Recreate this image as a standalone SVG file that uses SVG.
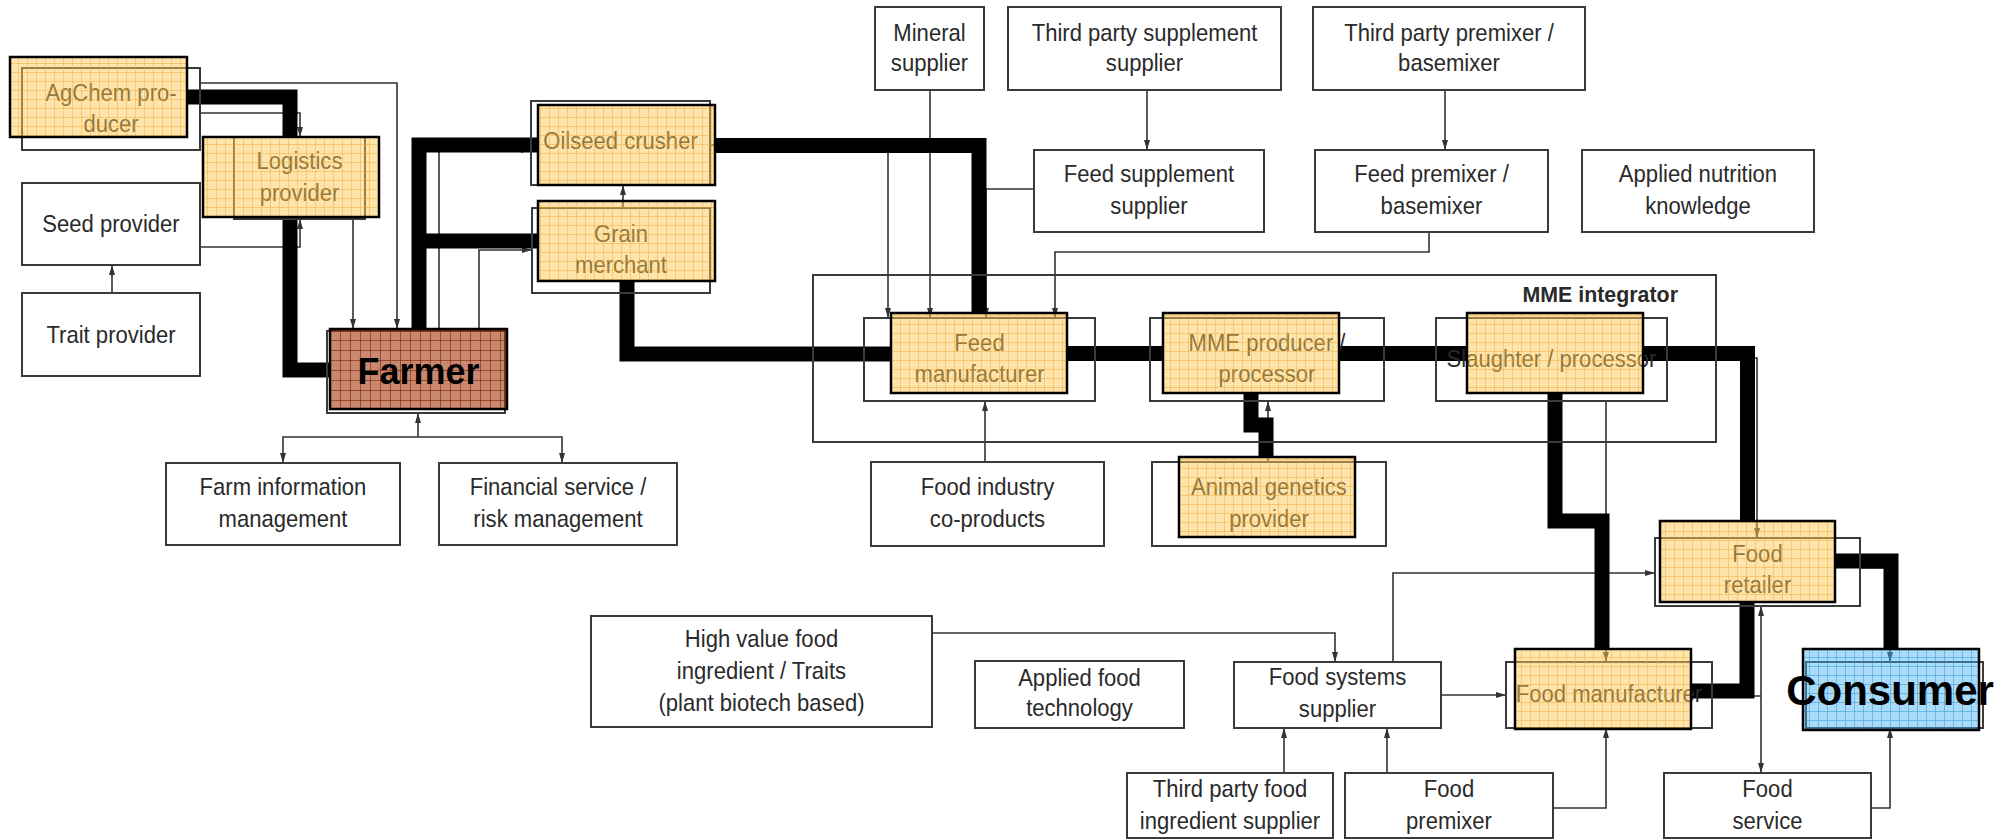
<svg xmlns="http://www.w3.org/2000/svg" width="2014" height="840" viewBox="0 0 2014 840">
<defs>
<style>
.b{fill:none;stroke:#3a3a3a;stroke-width:2}
.t{font-family:"Liberation Sans",Arial,sans-serif;font-size:24px;fill:#2a2a2a;text-anchor:middle}
.big{font-family:"Liberation Sans",Arial,sans-serif;font-weight:bold;fill:#000;text-anchor:middle}
.lab{font-family:"Liberation Sans",Arial,sans-serif;font-weight:bold;font-size:23px;fill:#2a2a2a;text-anchor:end}
.c{fill:none;stroke:#333;stroke-width:1.6;marker-end:url(#ah)}
.c0{fill:none;stroke:#333;stroke-width:1.6}
.c2{fill:none;stroke:#333;stroke-width:1.6;marker-end:url(#ah);marker-start:url(#ah)}
.k{fill:none;stroke:#000;stroke-width:15;stroke-linejoin:miter;stroke-linecap:butt}
.oy{fill:url(#py);stroke:#000;stroke-width:2.5}
.ob{fill:url(#pb);stroke:#000;stroke-width:2.5}
.oc{fill:url(#pc);stroke:#000;stroke-width:2.5}
</style>
<pattern id="py" width="9" height="9" patternUnits="userSpaceOnUse">
<rect width="9" height="9" fill="#FDC853" fill-opacity="0.49"/>
<path d="M0 0.5H9M0.5 0V9" stroke="#F0A020" stroke-opacity="0.4" stroke-width="1"/>
</pattern>
<pattern id="pb" width="10" height="10" patternUnits="userSpaceOnUse">
<rect width="10" height="10" fill="#A83810" fill-opacity="0.6"/>
<path d="M0 0.5H10M0.5 0V10" stroke="#7a2000" stroke-opacity="0.6" stroke-width="1"/>
</pattern>
<pattern id="pc" width="9" height="9" patternUnits="userSpaceOnUse">
<rect width="9" height="9" fill="#40B0F0" fill-opacity="0.45"/>
<path d="M0 0.5H9M0.5 0V9" stroke="#2090D0" stroke-opacity="0.45" stroke-width="1"/>
</pattern>
<marker id="ah" viewBox="0 0 10 6" refX="10" refY="3" markerWidth="10" markerHeight="6" markerUnits="userSpaceOnUse" orient="auto-start-reverse">
<path d="M0 0L10 3L0 6z" fill="#333"/>
</marker>
</defs>
<rect width="2014" height="840" fill="#fff"/>

<g id="connectors">
<path class="c" d="M200 83H397V329"/>
<path class="c" d="M200 113H300V137"/>
<path class="c" d="M200 247H300V219"/>
<path class="c" d="M112 293V265"/>
<path class="c" d="M353 219V329"/>
<path class="c" d="M439 329V150H531"/>
<path class="c" d="M479 329V250H532"/>
<path class="c" d="M623 208V185"/>
<path class="c" d="M710 145H888V318"/>
<path class="c" d="M930 90V318"/>
<path class="c" d="M1034 189H986V318"/>
<path class="c" d="M1429 232V252H1055V318"/>
<path class="c" d="M1147 90V150"/>
<path class="c" d="M1445 90V150"/>
<path class="c" d="M627 293V358H864"/>
<path class="c" d="M1095 358H1150"/>
<path class="c" d="M1384 358H1436"/>
<path class="c" d="M985 462V401"/>
<path class="c" d="M1268 462V401"/>
<path class="c" d="M1606 401V662"/>
<path class="c" d="M1667 358H1757V538"/>
<path class="c" d="M1860 568H1890V662"/>
<path class="c0" d="M1712 696H1761"/>
<path class="c2" d="M1761 606V773"/>
<path class="c" d="M1871 808H1890V728"/>
<path class="c" d="M1553 808H1606V728"/>
<path class="c" d="M1387 773V728"/>
<path class="c" d="M1284 773V728"/>
<path class="c" d="M1441 695H1506"/>
<path class="c" d="M1393 662V573H1655"/>
<path class="c" d="M932 633H1335V662"/>
<path class="c" d="M418 437V413"/>
<path class="c" d="M418 437H283V463"/>
<path class="c" d="M418 437H562V463"/>
<path class="k" d="M187 97H290V137"/>
<path class="k" d="M290 217V370H330"/>
<path class="k" d="M419 329V145H538"/>
<path class="k" d="M419 241H538"/>
<path class="k" d="M627 281V354H891"/>
<path class="k" d="M715 145.5H979V313"/>
<path class="k" d="M1067 353.5H1163"/>
<path class="k" d="M1339 353.5H1467"/>
<path class="k" d="M1643 353.5H1747.5V521"/>
<path class="k" d="M1555 393V521H1602V649"/>
<path class="k" d="M1251 393V425H1266V457"/>
<path class="k" d="M1835 561H1891V649"/>
<path class="k" d="M1747 602V691H1691"/>
</g>

<g id="agchem"><rect class="b" x="22" y="68" width="178" height="82"/><text class="t" transform="translate(111 109) scale(.92 1)"><tspan x="0" y="-8">AgChem pro-</tspan><tspan x="0" y="23">ducer</tspan></text><rect class="oy" x="10" y="57" width="177" height="80"/></g>
<g id="logistics"><rect class="b" x="234" y="137" width="131" height="82"/><text class="t" transform="translate(299.5 178) scale(.92 1)"><tspan x="0" y="-9">Logistics</tspan><tspan x="0" y="23">provider</tspan></text><rect class="oy" x="203" y="137" width="176" height="80"/></g>
<g id="seed"><rect class="b" x="22" y="183" width="178" height="82"/><text class="t" transform="translate(111 224) scale(.92 1)" y="8">Seed provider</text></g>
<g id="trait"><rect class="b" x="22" y="293" width="178" height="83"/><text class="t" transform="translate(111 334.5) scale(.92 1)" y="8">Trait provider</text></g>
<g id="oilseed"><rect class="b" x="531" y="101" width="179" height="84"/><text class="t" transform="translate(620.5 143) scale(.92 1)" y="6">Oilseed crusher</text><rect class="oy" x="538" y="105" width="177" height="80"/></g>
<g id="grain"><rect class="b" x="532" y="208" width="178" height="85"/><text class="t" transform="translate(621 250.5) scale(.92 1)"><tspan x="0" y="-9">Grain</tspan><tspan x="0" y="23">merchant</tspan></text><rect class="oy" x="538" y="201" width="177" height="80"/></g>
<g id="farmer"><rect class="b" x="327" y="331" width="178" height="82"/><rect class="ob" x="330" y="329" width="177" height="80"/><text class="big" x="418.5" y="384" font-size="36">Farmer</text></g>
<g id="farminfo"><rect class="b" x="166" y="463" width="234" height="82"/><text class="t" transform="translate(283 504) scale(.92 1)"><tspan x="0" y="-9">Farm information</tspan><tspan x="0" y="23">management</tspan></text></g>
<g id="financial"><rect class="b" x="439" y="463" width="238" height="82"/><text class="t" transform="translate(558 504) scale(.92 1)"><tspan x="0" y="-9">Financial service /</tspan><tspan x="0" y="23">risk management</tspan></text></g>
<g id="mineral"><rect class="b" x="875" y="7" width="109" height="83"/><text class="t" transform="translate(929.5 48.5) scale(.92 1)"><tspan x="0" y="-8">Mineral</tspan><tspan x="0" y="23">supplier</tspan></text></g>
<g id="tpsupp"><rect class="b" x="1008" y="7" width="273" height="83"/><text class="t" transform="translate(1144.5 48.5) scale(.92 1)"><tspan x="0" y="-8">Third party supplement</tspan><tspan x="0" y="23">supplier</tspan></text></g>
<g id="tppremix"><rect class="b" x="1313" y="7" width="272" height="83"/><text class="t" transform="translate(1449 48.5) scale(.92 1)"><tspan x="0" y="-8">Third party premixer /</tspan><tspan x="0" y="23">basemixer</tspan></text></g>
<g id="feedsupp"><rect class="b" x="1034" y="150" width="230" height="82"/><text class="t" transform="translate(1149 191) scale(.92 1)"><tspan x="0" y="-9">Feed supplement</tspan><tspan x="0" y="23">supplier</tspan></text></g>
<g id="feedpremix"><rect class="b" x="1315" y="150" width="233" height="82"/><text class="t" transform="translate(1431.5 191) scale(.92 1)"><tspan x="0" y="-9">Feed premixer /</tspan><tspan x="0" y="23">basemixer</tspan></text></g>
<g id="appnutr"><rect class="b" x="1582" y="150" width="232" height="82"/><text class="t" transform="translate(1698 191) scale(.92 1)"><tspan x="0" y="-9">Applied nutrition</tspan><tspan x="0" y="23">knowledge</tspan></text></g>
<g id="mmeintegrator"><rect class="b" x="813" y="275" width="903" height="167"/><text class="lab" transform="translate(1678 302) scale(.93 1)">MME integrator</text></g>
<g id="feedmfr"><rect class="b" x="864" y="318" width="231" height="83"/><text class="t" transform="translate(979.5 359.5) scale(.92 1)"><tspan x="0" y="-9">Feed</tspan><tspan x="0" y="23">manufacturer</tspan></text><rect class="oy" x="891" y="313" width="176" height="80"/></g>
<g id="mmeprod"><rect class="b" x="1150" y="318" width="234" height="83"/><text class="t" transform="translate(1267 359.5) scale(.92 1)"><tspan x="0" y="-9">MME producer /</tspan><tspan x="0" y="23">processor</tspan></text><rect class="oy" x="1163" y="313" width="176" height="80"/></g>
<g id="slaughter"><rect class="b" x="1436" y="318" width="231" height="83"/><text class="t" transform="translate(1551.5 359.5) scale(.92 1)" y="7">Slaughter / processor</text><rect class="oy" x="1467" y="313" width="176" height="80"/></g>
<g id="foodind"><rect class="b" x="871" y="462" width="233" height="84"/><text class="t" transform="translate(987.5 504) scale(.92 1)"><tspan x="0" y="-9">Food industry</tspan><tspan x="0" y="23">co-products</tspan></text></g>
<g id="animgen"><rect class="b" x="1152" y="462" width="234" height="84"/><text class="t" transform="translate(1269 504) scale(.92 1)"><tspan x="0" y="-9">Animal genetics</tspan><tspan x="0" y="23">provider</tspan></text><rect class="oy" x="1179" y="457" width="176" height="80"/></g>
<g id="highvalue"><rect class="b" x="591" y="616" width="341" height="111"/><text class="t" transform="translate(761.5 671.5) scale(.92 1)"><tspan x="0" y="-25">High value food</tspan><tspan x="0" y="7.5">ingredient / Traits</tspan><tspan x="0" y="40">(plant biotech based)</tspan></text></g>
<g id="appfood"><rect class="b" x="975" y="661" width="209" height="67"/><text class="t" transform="translate(1079.5 694.5) scale(.92 1)"><tspan x="0" y="-9">Applied food</tspan><tspan x="0" y="22">technology</tspan></text></g>
<g id="foodsys"><rect class="b" x="1234" y="662" width="207" height="66"/><text class="t" transform="translate(1337.5 695) scale(.92 1)"><tspan x="0" y="-10">Food systems</tspan><tspan x="0" y="22">supplier</tspan></text></g>
<g id="foodmfr"><rect class="b" x="1506" y="662" width="206" height="66"/><text class="t" transform="translate(1609 695) scale(.92 1)" y="7">Food manufacturer</text><rect class="oy" x="1515" y="649" width="176" height="80"/></g>
<g id="foodretail"><rect class="b" x="1655" y="538" width="205" height="68"/><text class="t" transform="translate(1757.5 572) scale(.92 1)"><tspan x="0" y="-10">Food</tspan><tspan x="0" y="21">retailer</tspan></text><rect class="oy" x="1660" y="521" width="175" height="81"/></g>
<g id="consumer"><rect class="b" x="1806" y="662" width="177" height="66"/><rect class="oc" x="1803" y="649" width="176" height="81"/><text class="big" x="1890" y="705" font-size="42">Consumer</text></g>
<g id="tpfood"><rect class="b" x="1127" y="773" width="206" height="65"/><text class="t" transform="translate(1230 805) scale(.92 1)"><tspan x="0" y="-8">Third party food</tspan><tspan x="0" y="24">ingredient supplier</tspan></text></g>
<g id="foodpremix"><rect class="b" x="1345" y="773" width="208" height="65"/><text class="t" transform="translate(1449 805) scale(.92 1)"><tspan x="0" y="-8">Food</tspan><tspan x="0" y="24">premixer</tspan></text></g>
<g id="foodservice"><rect class="b" x="1664" y="773" width="207" height="65"/><text class="t" transform="translate(1767.5 805) scale(.92 1)"><tspan x="0" y="-8">Food</tspan><tspan x="0" y="24">service</tspan></text></g>
</svg>
